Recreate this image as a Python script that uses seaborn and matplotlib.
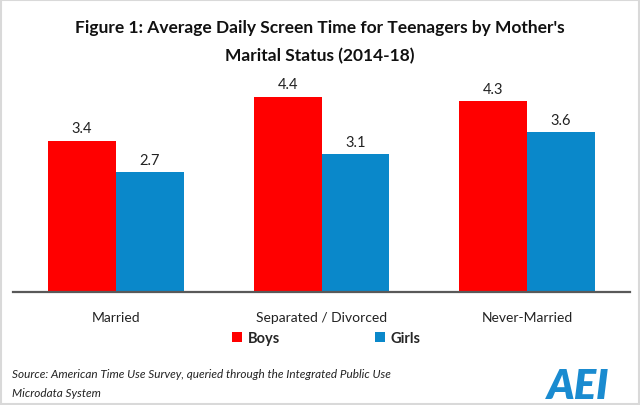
import matplotlib
matplotlib.use("Agg")
import matplotlib.pyplot as plt
import seaborn as sns
import pandas as pd
from matplotlib.patches import Rectangle, Patch

categories = ["Married", "Separated / Divorced", "Never-Married"]
boys = [3.4, 4.4, 4.3]
girls = [2.7, 3.1, 3.6]
series = ["Boys", "Girls"]
colors = ["#FF0000", "#0A88CA"]
title = "Figure 1: Average Daily Screen Time for Teenagers by Mother's\nMarital Status (2014-18)"
source = "Source: American Time Use Survey, queried through the Integrated Public Use\nMicrodata System"

df = pd.DataFrame({
    "category": categories * 2,
    "series": [series[0]] * 3 + [series[1]] * 3,
    "value": boys + girls,
})

sns.set_theme(style="white")
plt.rcParams["font.family"] = ["Lato", "DejaVu Sans"]

fig = plt.figure(figsize=(6.4, 4.06), dpi=100)
ax = fig.add_axes([13 / 640, 1 - 293 / 406, 617 / 640, (293 - 71) / 406])

sns.barplot(data=df, x="category", y="value", hue="series", palette=colors,
            width=0.66, gap=0, ax=ax, legend=False, saturation=1,
            edgecolor="none", linewidth=0)
ax.set_ylim(0, 5)
ax.set_xlim(-0.5, 2.5)
ax.set_xlabel("")
ax.set_ylabel("")
ax.set_yticks([])
for s in ["left", "right", "top"]:
    ax.spines[s].set_visible(False)
ax.spines["bottom"].set_color("#595959")
ax.spines["bottom"].set_linewidth(1.6)
ax.tick_params(axis="x", length=0, pad=14, labelsize=10, labelcolor="#222222")

for cont in ax.containers:
    ax.bar_label(cont, fmt="%.1f", padding=4, fontsize=10.5, color="#222222")

fig.text(0.5, 1 - 42 / 406, title, ha="center", va="center", fontsize=12.5,
         fontweight="bold", color="#111111", linespacing=1.85)

handles = [Patch(facecolor=c, edgecolor="none") for c in colors]
fig.legend(handles, series, loc="center", bbox_to_anchor=(0.51, 1 - 339 / 406),
           ncol=2, frameon=False, handlelength=0.7, handleheight=0.7,
           handletextpad=0.4, columnspacing=6.5,
           prop={"weight": "bold", "size": 10.5})

fig.text(12 / 640, 1 - 384 / 406, source, ha="left", va="center", fontsize=8.5,
         style="italic", color="#222222", linespacing=1.85)
fig.text(578 / 640, 1 - 387 / 406, "AEI", ha="center", va="center", fontsize=30,
         fontweight="heavy", style="italic", color="#1A8BD0")

fig.patches.append(Rectangle((0.002, 0.003), 0.996, 0.994, transform=fig.transFigure,
                             fill=False, edgecolor="#D9D9D9", linewidth=1.5))

fig.savefig("out.png", dpi=100, facecolor="white")
